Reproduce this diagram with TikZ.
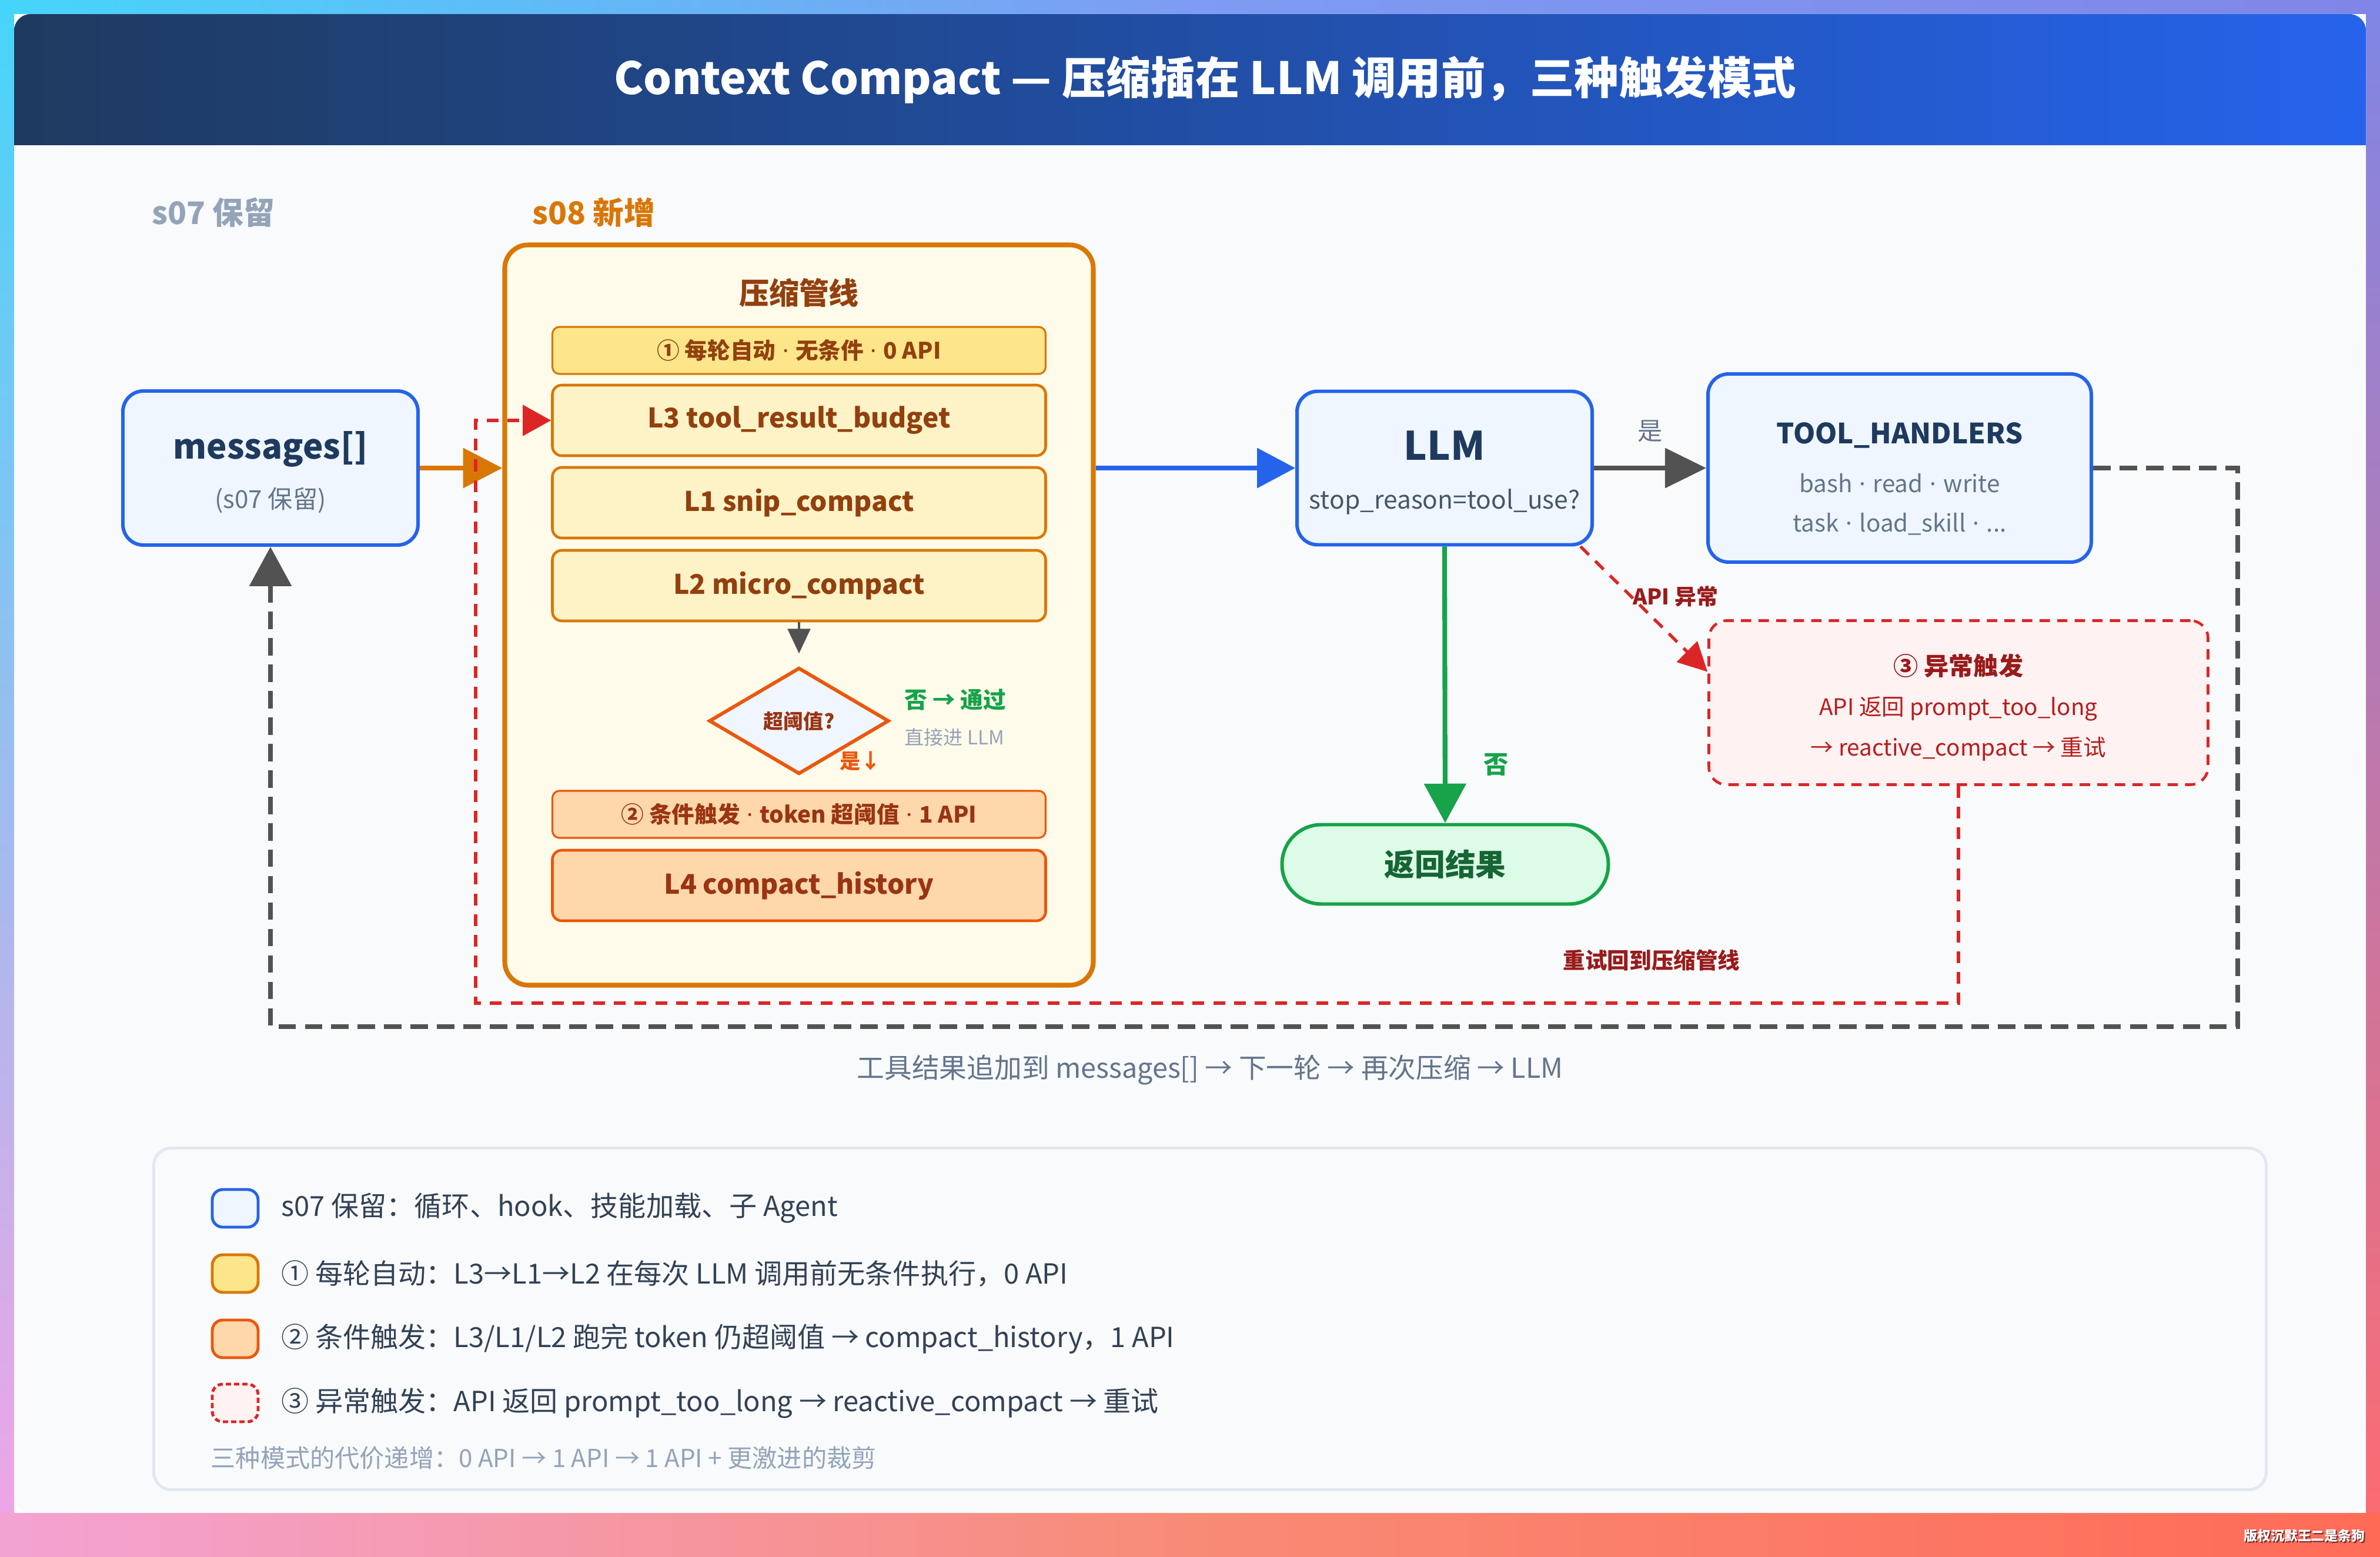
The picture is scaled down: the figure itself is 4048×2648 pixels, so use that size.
\documentclass[tikz,border=0pt]{standalone}
\usepackage{fontspec}
\setmainfont{Noto Sans CJK SC}
\newfontfamily\latinfont{Noto Sans}
\usepackage{tikz}
\usetikzlibrary{arrows.meta, positioning, shapes.geometric}

\definecolor{navy}{HTML}{1E3A5F}
\definecolor{slate}{HTML}{64748B}
\definecolor{slatedark}{HTML}{475569}
\definecolor{mist}{HTML}{94A3B8}
\definecolor{ink}{HTML}{334155}
\definecolor{blueline}{HTML}{2563EB}
\definecolor{bluefill}{HTML}{EFF6FF}
\definecolor{amber}{HTML}{D97706}
\definecolor{amberfill}{HTML}{FEF3C7}
\definecolor{amberband}{HTML}{FDE68A}
\definecolor{pipefill}{HTML}{FFFBEB}
\definecolor{rust}{HTML}{EA580C}
\definecolor{rustfill}{HTML}{FED7AA}
\definecolor{rustdark}{HTML}{9A3412}
\definecolor{brown}{HTML}{92400E}
\definecolor{leaf}{HTML}{16A34A}
\definecolor{leaffill}{HTML}{DCFCE7}
\definecolor{forest}{HTML}{166534}
\definecolor{alarm}{HTML}{DC2626}
\definecolor{alarmfill}{HTML}{FEF2F2}
\definecolor{alarmtext}{HTML}{B91C1C}
\definecolor{wine}{HTML}{991B1B}
\definecolor{graphite}{HTML}{525252}
\definecolor{paper}{HTML}{F8FAFC}
\definecolor{rim}{HTML}{E2E8F0}
\definecolor{wmshadow}{HTML}{6B2A2A}
\definecolor{bgcyan}{HTML}{46D5FA}
\definecolor{bgsky}{HTML}{7E9CF3}
\definecolor{bgviolet}{HTML}{7F86E6}
\definecolor{bgpink}{HTML}{F3A3D3}
\definecolor{bgsalmon}{HTML}{F88B76}
\definecolor{bgred}{HTML}{FF6B57}
\definecolor{bglilac}{HTML}{F3A4E4}
\definecolor{bgrose}{HTML}{FF6A6E}

\newcommand{\fsz}[1]{\fontsize{#1}{#1}\selectfont}
\newcommand{\mdot}{\hspace{0.3em}{\latinfont ·}\hspace{0.3em}}

\begin{document}
\begin{tikzpicture}[x=0.1mm, y=-0.1mm,
    box/.style={draw=blueline, fill=bluefill, line width=1.7pt, rounded corners=3.5mm},
    band/.style={line width=0.9pt, rounded corners=1.2mm, minimum width=83.9mm, minimum height=8mm, inner sep=0pt, font=\fsz{11}\bfseries},
    layer/.style={line width=1.3pt, rounded corners=1.6mm, minimum width=83.9mm, minimum height=12mm, inner sep=0pt, font=\fsz{13.1}\bfseries},
    swatch/.style={line width=1.4pt, rounded corners=1.8mm, minimum width=7.8mm, minimum height=6.4mm, inner sep=0pt},
    legtext/.style={anchor=west, inner sep=0pt, text=ink, font=\fsz{13.4}},
    flow/.style={line width=2.3pt},
    loopback/.style={draw=graphite, line width=2.3pt, dash pattern=on 8.5pt off 4.3pt},
    retry/.style={draw=alarm, line width=1.5pt, dash pattern=on 5.7pt off 4.3pt}]
\useasboundingbox (0,0) rectangle (4048,2648);

% frame and card
\shade[top color=bgcyan, bottom color=bglilac] (0,0) rectangle (24,2648);
\shade[top color=bgviolet, bottom color=bgrose] (4024,0) rectangle (4048,2648);
\shade[left color=bgcyan, right color=bgviolet, middle color=bgsky] (0,0) rectangle (4048,24);
\shade[left color=bgpink, right color=bgred, middle color=bgsalmon] (0,2573) rectangle (4048,2648);
\fill[paper, rounded corners=2.8mm] (24,24) rectangle (4024,2573);
\begin{scope}
  \clip[rounded corners=2.8mm] (24,24) rectangle (4024,2573);
  \shade[left color=navy, right color=blueline] (24,24) rectangle (4024,247);
\end{scope}
\node (title) at (2050,136) [text=white, font=\fsz{21.5}\bfseries] {Context Compact — 压缩插在 LLM 调用前，三种触发模式};

\node (s07) at (258,361) [anchor=west, inner sep=0pt, text=mist, font=\fsz{15}\bfseries] {s07 保留};
\node (s08) at (905,361) [anchor=west, inner sep=0pt, text=amber, font=\fsz{15}\bfseries] {s08 新增};

% pipeline
\node (pipe) at (1359,1046) [draw=amber, fill=pipefill, line width=2.3pt, rounded corners=4mm, minimum width=100.1mm, minimum height=125.9mm] {};
\node (pipetitle) at (1359,498) [text=brown, font=\fsz{14.5}\bfseries] {压缩管线};
\node (auto) at (1359,596) [band, draw=amber, fill=amberband, text=brown] {① 每轮自动\mdot 无条件\mdot 0 API};
\node (L3) at (1359,715) [layer, draw=amber, fill=amberfill, text=brown] {L3 tool\_result\_budget};
\node (L1) at (1359,855) [layer, draw=amber, fill=amberfill, text=brown] {L1 snip\_compact};
\node (L2) at (1359,996) [layer, draw=amber, fill=amberfill, text=brown] {L2 micro\_compact};
\node (gate) at (1359,1226) [diamond, draw=rust, fill=bluefill, line width=1.7pt, minimum width=30.6mm, minimum height=18.1mm, inner sep=0pt, text=rustdark, font=\fsz{9.7}\bfseries] {超阈值?};
\node (cond) at (1359,1385) [band, draw=rust, fill=rustfill, text=rustdark] {② 条件触发\mdot token 超阈值\mdot 1 API};
\node (L4) at (1359,1506) [layer, draw=rust, fill=rustfill, text=rustdark] {L4 compact\_history};
\node (gateno) at (1538,1190) [anchor=west, inner sep=0pt, text=leaf, font=\fsz{11}\bfseries] {否 → 通过};
\node (gatenote) at (1538,1254) [anchor=west, inner sep=0pt, text=mist, font=\fsz{9.4}] {直接进 LLM};
\node (gateyes) at (1428,1294) [anchor=west, inner sep=0pt, text=rust, font=\fsz{10}\bfseries] {是↓};
\draw[-{Triangle[length=12pt,width=11pt]}, graphite, line width=1pt, shorten >=6pt] (L2) -- (gate);

% main loop
\node (msg) at (460,796) [box, minimum width=50.2mm, minimum height=26.2mm] {};
\node (msgname) at (460,764) [text=navy, font=\fsz{16.5}\bfseries] {messages[]};
\node (msgnote) at (460,851) [text=slate, font=\fsz{12}] {(s07 保留)};

\node (llm) at (2457,796) [box, minimum width=50.2mm, minimum height=26.1mm] {};
\node (llmname) at (2457,758) [text=navy, font=\fsz{19}\bfseries] {LLM};
\node (llmnote) at (2457,853) [text=slatedark, font=\fsz{12.1}] {stop\_reason=tool\_use?};

\node (tool) at (3231,796) [box, minimum width=65.2mm, minimum height=32mm] {};
\node (toolname) at (3231,740) [text=navy, font=\fsz{13.5}\bfseries] {TOOL\_HANDLERS};
\node (toolone) at (3231,822) [text=slate, font=\fsz{11.5}] {bash\mdot read\mdot write};
\node (tooltwo) at (3231,891) [text=slate, font=\fsz{11.5}] {task\mdot load\_skill\mdot ...};

\node (result) at (2458,1470) [draw=leaf, fill=leaffill, line width=1.7pt, rounded corners=6.7mm, minimum width=55.5mm, minimum height=13.5mm, text=forest, font=\fsz{14.7}\bfseries] {返回结果};

\node (err) at (3331,1195) [draw=alarm, fill=alarmfill, line width=1.3pt, dash pattern=on 5pt off 3.5pt, rounded corners=3mm, minimum width=84.9mm, minimum height=27.9mm] {};
\node (errname) at (3331,1132) [text=wine, font=\fsz{12}\bfseries] {③ 异常触发};
\node (errone) at (3331,1205) [text=alarmtext, font=\fsz{11}] {API 返回 prompt\_too\_long};
\node (errtwo) at (3331,1274) [text=alarmtext, font=\fsz{11}] {→ reactive\_compact → 重试};

\draw[flow, amber, -{Triangle[length=19pt,width=19pt]}] (msg.east) -- (pipe.west |- msg.east);
\draw[flow, blueline, -{Triangle[length=18.5pt,width=19pt]}] (pipe.east |- llm.west) -- (llm.west);
\draw[flow, graphite, -{Triangle[length=20pt,width=19pt]}] (llm.east) -- node[above=8pt, text=slate, font=\fsz{12}] {是} (tool.west);
\draw[flow, leaf, -{Triangle[length=19pt,width=20pt]}] (llm.south) -- node[pos=0.79, right=17.5pt, inner sep=0pt, text=leaf, font=\fsz{12}\bfseries] {否} (result.north);
\draw[retry, -{Triangle[length=14pt,width=14pt]}] (llm.-30) -- node[pos=0.4, anchor=west, inner sep=0pt, text=wine, font=\fsz{10.5}\bfseries] {API 异常} (err.173);

% return paths
\coordinate (gbend) at (3806,1746);
\coordinate (rbend) at (809,1706);
\draw[loopback, -{Triangle[length=19pt,width=20pt]}] (tool.east) -| (gbend) -| (msg.south);
\draw[retry, -{Triangle[length=13.7pt,width=14.8pt]}] (err.south) |- (rbend) |- (L3.west);
\node (retrynote) at (2809,1633) [text=wine, font=\fsz{10.7}\bfseries] {重试回到压缩管线};
\node (caption) at (2058,1820) [text=slate, font=\fsz{13.3}] {工具结果追加到 messages[] → 下一轮 → 再次压缩 → LLM};

% legend
\node (legend) at (2058,2243) [draw=rim, fill=paper, line width=1.4pt, rounded corners=3mm, minimum width=359.3mm, minimum height=58.1mm] {};
\node (swbase) at (400,2055) [swatch, draw=blueline, fill=bluefill] {};
\node (swauto) at (400,2166) [swatch, draw=amber, fill=amberband] {};
\node (swcond) at (400,2277) [swatch, draw=rust, fill=rustfill] {};
\node (swerr) at (400,2386) [swatch, draw=alarm, fill=alarmfill, dash pattern=on 2.5pt off 1.5pt] {};
\foreach \y/\txt in {2055/{s07 保留：循环、hook、技能加载、子 Agent},
                     2166/{① 每轮自动：L3→L1→L2 在每次 LLM 调用前无条件执行，0 API},
                     2277/{② 条件触发：L3/L1/L2 跑完 token 仍超阈值 → compact\_history，1 API},
                     2386/{③ 异常触发：API 返回 prompt\_too\_long → reactive\_compact → 重试}}
{
    \node (leg\y) at (478,\y) [legtext] {\txt};
}
\node (legfoot) at (358,2480) [anchor=west, inner sep=0pt, text=mist, font=\fsz{12}] {三种模式的代价递增：0 API → 1 API → 1 API + 更激进的裁剪};

\node (wmshade) at (4025,2614) [anchor=east, inner sep=0pt, text=wmshadow, font=\fsz{6.5}\bfseries] {版权沉默王二是条狗};
\node (wm) at (4023,2612) [anchor=east, inner sep=0pt, text=white, font=\fsz{6.5}\bfseries] {版权沉默王二是条狗};

\end{tikzpicture}
\end{document}
